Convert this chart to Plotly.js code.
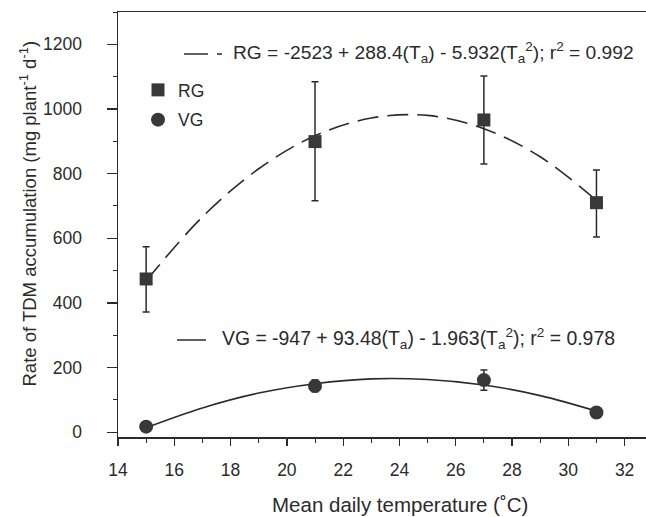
<!DOCTYPE html>
<html>
<head>
<meta charset="utf-8">
<script src="https://cdn.plot.ly/plotly-3.0.1.min.js"></script>
<style>html,body{margin:0;padding:0;background:#fff;}#chart{width:646px;height:517px;}</style>
</head>
<body>
<div id="chart"></div>
<script>
// Observed means and error bars
const temps = [15, 21, 27, 31];
const rgMean = [474, 899, 966, 710];
const rgErrPlus = [100, 185, 136, 101];
const rgErrMinus = [102, 183, 136, 106];
const vgMean = [17, 143, 161, 61];
const vgErrPlus = [0, 18, 31, 0];
const vgErrMinus = [0, 18, 31, 0];

// Fitted curves
const fitT = [15, 17, 19, 21, 23, 25, 27, 29, 31];
const rgFit = [468, 666, 815, 917, 972, 980, 939, 852, 717];
const vgFit = [14, 75, 121, 150, 165, 163, 146, 113, 65];

const xTickVals = [14, 16, 18, 20, 22, 24, 26, 28, 30, 32];
const yTickVals = [0, 200, 400, 600, 800, 1000, 1200];

const xTitle = 'Mean daily temperature (˚C)';
const yTitle = 'Rate of TDM accumulation (mg plant<sup>-1</sup> d<sup>-1</sup>)';
const rgEq = 'RG = -2523 + 288.4(T<sub>a</sub>) - 5.932(T<sub>a</sub><sup>2</sup>); r<sup>2</sup> = 0.992';
const vgEq = 'VG = -947 + 93.48(T<sub>a</sub>) - 1.963(T<sub>a</sub><sup>2</sup>); r<sup>2</sup> = 0.978';

const ink = '#2b2b2b';
const font = 'Liberation Sans, Arial, Helvetica, sans-serif';

// pixel helpers for paper coordinates (plot area: x 118..646, y 12..437)
const px = v => (v - 118) / 528;
const py = v => (437 - v) / 425;

const traces = [
  {x: fitT, y: rgFit, mode: 'lines', line: {shape: 'spline', color: ink, width: 1.6, dash: '21px,9px'}, showlegend: false, hoverinfo: 'skip'},
  {x: fitT, y: vgFit, mode: 'lines', line: {shape: 'spline', color: ink, width: 1.6}, showlegend: false, hoverinfo: 'skip'},
  {x: temps, y: rgMean, name: 'RG', mode: 'markers', legendgroup: 'rg',
   marker: {symbol: 'square', size: 13, color: '#383838'},
   error_y: {type: 'data', symmetric: false, array: rgErrPlus, arrayminus: rgErrMinus, color: ink, thickness: 1.5, width: 3.5}},
  {x: temps, y: vgMean, name: 'VG', mode: 'markers', legendgroup: 'vg',
   marker: {symbol: 'circle', size: 14, color: '#383838'},
   error_y: {type: 'data', symmetric: false, array: vgErrPlus, arrayminus: vgErrMinus, color: ink, thickness: 1.5, width: 3.5}}
];

const layout = {
  width: 646, height: 517,
  margin: {l: 118, r: 0, t: 12, b: 80},
  paper_bgcolor: '#fff', plot_bgcolor: '#fff',
  font: {family: font, color: ink, size: 17},
  showlegend: true,
  legend: {x: px(138), y: py(72), xanchor: 'left', yanchor: 'top', font: {size: 17.5, color: ink}, bgcolor: 'rgba(0,0,0,0)', tracegroupgap: 4},
  xaxis: {
    range: [14, 32.76], tickvals: xTickVals, ticks: 'outside', ticklen: 7, tickwidth: 1.3, tickcolor: ink,
    showline: true, linecolor: ink, linewidth: 1.5, mirror: true, showgrid: false, zeroline: false,
    minor: {dtick: 1, tick0: 15, ticks: 'outside', ticklen: 4, tickcolor: ink, tickwidth: 1},
    tickfont: {size: 17.5, color: ink}, ticklabelstandoff: 9
  },
  yaxis: {
    range: [-15, 1300], tickvals: yTickVals, ticks: 'outside', ticklen: 10, tickwidth: 1.3, tickcolor: ink,
    showline: true, linecolor: ink, linewidth: 1.5, showgrid: false, zeroline: false,
    minor: {dtick: 100, tick0: 0, ticks: 'outside', ticklen: 4, tickcolor: ink, tickwidth: 1},
    tickfont: {size: 17.5, color: ink}, ticklabelstandoff: 21
  },
  annotations: [
    {xref: 'paper', yref: 'paper', x: px(400), y: py(505), xanchor: 'center', yanchor: 'middle', showarrow: false,
     text: xTitle, font: {size: 20.5, color: ink}},
    {xref: 'paper', yref: 'paper', x: px(28.5), y: py(214), xanchor: 'center', yanchor: 'middle', showarrow: false, textangle: -90,
     text: yTitle, font: {size: 18.5, color: ink}},
    {xref: 'paper', yref: 'paper', x: px(231), y: py(53), xanchor: 'left', yanchor: 'middle', showarrow: false,
     text: rgEq, font: {size: 19.2, color: ink}},
    {xref: 'paper', yref: 'paper', x: px(220), y: py(338), xanchor: 'left', yanchor: 'middle', showarrow: false,
     text: vgEq, font: {size: 19.4, color: ink}}
  ],
  shapes: [
    {type: 'line', xref: 'paper', yref: 'paper', x0: px(184), x1: px(208), y0: py(54), y1: py(54), line: {color: ink, width: 1.5}},
    {type: 'line', xref: 'paper', yref: 'paper', x0: px(217), x1: px(222), y0: py(54), y1: py(54), line: {color: ink, width: 1.5}},
    {type: 'line', xref: 'paper', yref: 'paper', x0: px(177), x1: px(206), y0: py(340), y1: py(340), line: {color: ink, width: 1.5}}
  ]
};

Plotly.newPlot('chart', traces, layout, {displayModeBar: false, staticPlot: true});
</script>
</body>
</html>
